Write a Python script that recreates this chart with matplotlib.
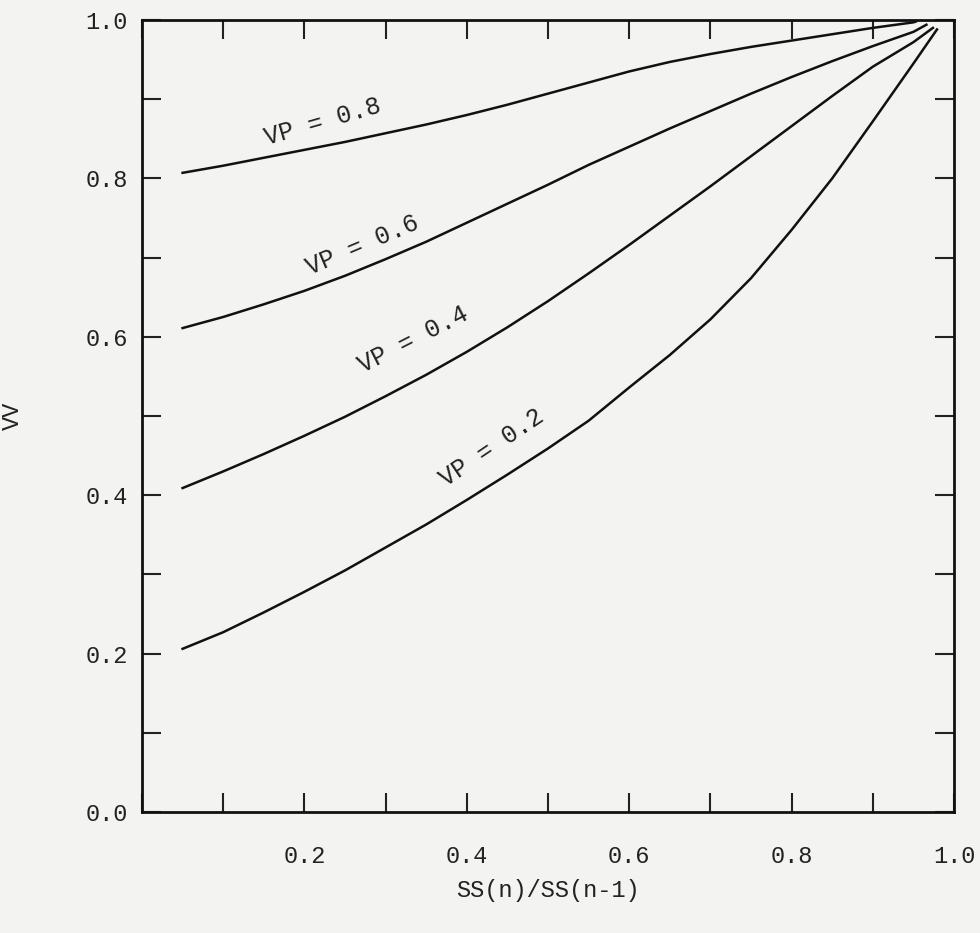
import matplotlib
matplotlib.use("Agg")
import matplotlib.pyplot as plt

# values
ratio = [0.05, 0.10, 0.15, 0.20, 0.25, 0.30, 0.35, 0.40, 0.45, 0.50,
         0.55, 0.60, 0.65, 0.70, 0.75, 0.80, 0.85, 0.90, 0.95]
vv_08 = [0.807, 0.816, 0.826, 0.836, 0.846, 0.857, 0.868, 0.880, 0.893, 0.907,
         0.921, 0.935, 0.947, 0.957, 0.966, 0.974, 0.982, 0.990, 0.997]
vv_06 = [0.611, 0.625, 0.641, 0.658, 0.677, 0.698, 0.720, 0.744, 0.768, 0.792,
         0.817, 0.840, 0.863, 0.885, 0.907, 0.928, 0.948, 0.967, 0.985]
vv_04 = [0.409, 0.430, 0.452, 0.475, 0.499, 0.525, 0.552, 0.581, 0.612, 0.645,
         0.680, 0.716, 0.753, 0.790, 0.828, 0.866, 0.904, 0.941, 0.972]
vv_02 = [0.206, 0.227, 0.252, 0.278, 0.305, 0.334, 0.363, 0.394, 0.426, 0.459,
         0.494, 0.536, 0.577, 0.622, 0.674, 0.735, 0.800, 0.872, 0.945]
end_x = [0.953, 0.966, 0.974, 0.979]
end_y = [0.998, 0.994, 0.990, 0.988]
labels = ["VP = 0.8", "VP = 0.6", "VP = 0.4", "VP = 0.2"]

curves = [vv_08, vv_06, vv_04, vv_02]
label_pos = [(0.222, 0.871, 16), (0.272, 0.716, 23), (0.334, 0.596, 27), (0.431, 0.460, 34)]

plt.rcParams['font.family'] = ['Liberation Mono', 'DejaVu Sans Mono']

fig = plt.figure(figsize=(9.8, 9.33), dpi=100, facecolor='#f3f3f1')
ax = fig.add_axes([0.1449, 0.1297, 0.8286, 0.8489])
ax.set_facecolor('#f3f3f1')

for c, ex, ey in zip(curves, end_x, end_y):
    ax.plot(ratio + [ex], c + [ey], color='#111111', lw=1.8,
            solid_joinstyle='round')

for lab, (lx, ly, rot) in zip(labels, label_pos):
    ax.text(lx, ly, lab, rotation=rot, fontsize=18, ha='center', va='center',
            rotation_mode='anchor', color='#222222')

ax.set_xlim(0, 1)
ax.set_ylim(0, 1)
ticks = [i / 10 for i in range(11)]
ax.set_xticks(ticks)
ax.set_yticks(ticks)
ax.set_xticklabels(['' if i % 2 or i == 0 else '%.1f' % (i / 10) for i in range(11)])
ax.set_yticklabels(['' if i % 2 else '%.1f' % (i / 10) for i in range(11)])
ax.tick_params(direction='in', length=14, width=1.5, top=True, right=True,
               labelsize=17, colors='#222222')
ax.tick_params(axis='x', pad=24)
ax.tick_params(axis='y', pad=10)
for s in ax.spines.values():
    s.set_linewidth(2)
    s.set_color('#111111')

ax.set_xlabel('SS(n)/SS(n-1)', fontsize=17, color='#222222')
ax.set_ylabel('VV', fontsize=17, color='#222222')
ax.xaxis.set_label_coords(0.5, -0.085)
ax.yaxis.set_label_coords(-0.145, 0.5)

fig.savefig('out.png', dpi=100, facecolor=fig.get_facecolor())
